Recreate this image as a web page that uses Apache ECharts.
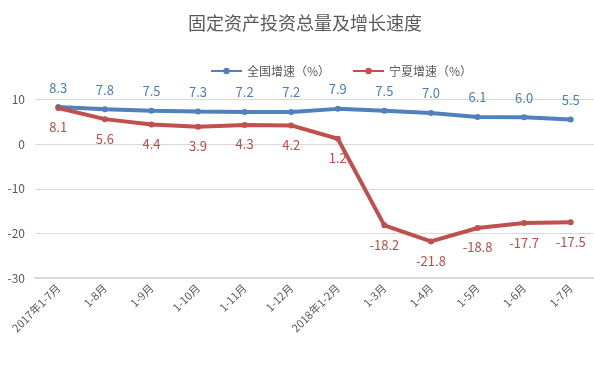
<!DOCTYPE html>
<html><head><meta charset="utf-8">
<script src="https://cdn.jsdelivr.net/npm/echarts@6/dist/echarts.min.js"></script>
<style>html,body{margin:0;padding:0;background:#fff}#c{width:594px;height:367px}</style>
</head><body><div id="c"></div>
<script>
const categories = ['2017年1-7月','1-8月','1-9月','1-10月','1-11月','1-12月','2018年1-2月','1-3月','1-4月','1-5月','1-6月','1-7月'];
const nationalGrowth = [8.3,7.8,7.5,7.3,7.2,7.2,7.9,7.5,7.0,6.1,6.0,5.5];
const ningxiaGrowth = [8.1,5.6,4.4,3.9,4.3,4.2,1.2,-18.2,-21.8,-18.8,-17.7,-17.5];
const seriesNames = ['全国增速（%）','宁夏增速（%）'];
const yTicks = [-30,-20,-10,0,10];

const FONT = '"Noto Sans CJK SC", "Microsoft YaHei", sans-serif';
const chart = echarts.init(document.getElementById('c'));
chart.setOption({
  animation: false,
  textStyle: {fontFamily: FONT},
  title: {text: '固定资产投资总量及增长速度', left: 183, top: 9,
    textStyle: {fontSize: 18, fontWeight: 'normal', color: '#595959', fontFamily: FONT}},
  legend: {top: 60, left: 205, itemWidth: 31, itemHeight: 8, itemGap: 22,
    textStyle: {fontSize: 12, color: '#595959', fontFamily: FONT},
    data: seriesNames},
  grid: {left: 35, right: 0, top: 99.5, bottom: 89, containLabel: false},
  xAxis: {type: 'category', data: categories, boundaryGap: true,
    axisLine: {onZero: false, lineStyle: {color: '#d9d9d9', width: 2}},
    axisTick: {show: false},
    axisLabel: {rotate: 45, interval: 0, fontSize: 11, color: '#595959', margin: 8, fontFamily: FONT}},
  yAxis: {type: 'value', min: yTicks[0], max: yTicks[yTicks.length-1], interval: 10,
    axisLine: {show: false}, axisTick: {show: false},
    splitLine: {lineStyle: {color: '#d9d9d9', width: 1}},
    axisLabel: {fontSize: 12, color: '#595959', margin: 10, fontFamily: FONT}},
  series: [
    {name: seriesNames[0], type: 'line', data: nationalGrowth, symbol: 'circle', symbolSize: 6,
      lineStyle: {color: '#4F81BD', width: 4}, itemStyle: {color: '#4F81BD'},
      label: {show: true, position: 'top', distance: 10, formatter: p => p.value.toFixed(1),
        color: '#4A7EBB', fontSize: 13, fontFamily: FONT}},
    {name: seriesNames[1], type: 'line', data: ningxiaGrowth, symbol: 'circle', symbolSize: 6,
      lineStyle: {color: '#C0504D', width: 4}, itemStyle: {color: '#C0504D'},
      label: {show: true, position: 'bottom', distance: 10, formatter: p => p.value.toFixed(1),
        color: '#BE4B48', fontSize: 13, fontFamily: FONT}}
  ]
});
</script></body></html>
